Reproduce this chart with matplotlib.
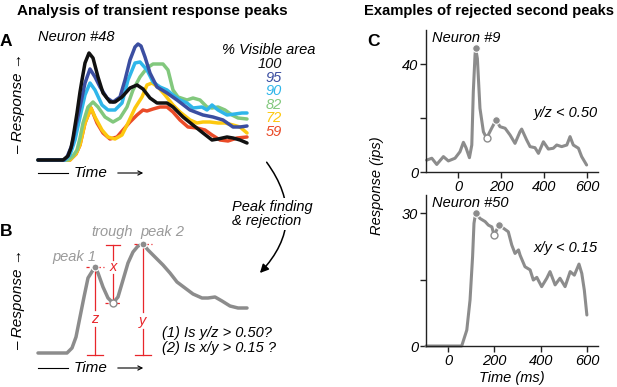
import numpy as np
import matplotlib.pyplot as plt
from matplotlib.patches import FancyArrowPatch

plt.rcParams['font.family'] = ['Liberation Sans', 'DejaVu Sans']
plt.rcParams['font.style'] = 'italic'

W, H = 617, 387
def fx(x): return x / W
def fy(y): return 1 - y / H

# ---- panel A: schematic responses (a.u.) for each % visible area
visible = ['100', '95', '90', '82', '72', '59']
colors = ['#111111', '#3b4ea1', '#2fb6ea', '#82c87d', '#fdc80f', '#ea4b28']

t100 = [0, 25, 30, 33, 35, 39, 42, 44, 47, 51, 55, 60, 65, 72, 77, 84, 92, 99, 105, 112, 119, 129, 135, 145, 155, 165, 174, 180, 189, 195, 202, 209]
r100 = [0, 0, 4, 12, 22, 47, 68, 80, 97, 107, 102, 83, 67, 58, 58, 63, 72, 75, 71, 62, 57, 57, 53, 43, 35, 27, 20, 21, 23, 22, 20, 17]
t95 = [0, 26, 29, 34, 38, 42, 47, 52, 57, 62, 69, 75, 82, 87, 92, 97, 100, 103, 107, 112, 119, 129, 139, 152, 165, 175, 185, 195, 202, 209]
r95 = [0, 0, 3, 15, 35, 53, 77, 91, 83, 73, 62, 58, 63, 80, 100, 113, 116, 114, 103, 87, 73, 67, 60, 50, 45, 43, 40, 33, 33, 34]
t90 = [0, 27, 32, 37, 42, 47, 52, 57, 64, 70, 77, 84, 90, 97, 102, 109, 115, 122, 129, 135, 142, 149, 155, 164, 169, 174, 180, 189, 197, 204, 209]
r90 = [0, 0, 5, 20, 43, 65, 77, 70, 55, 50, 50, 57, 80, 97, 98, 90, 78, 73, 70, 65, 60, 57, 52, 53, 50, 55, 50, 45, 46, 47, 47]
t82 = [0, 30, 35, 39, 42, 45, 50, 55, 60, 67, 75, 82, 89, 95, 102, 109, 115, 125, 130, 135, 140, 149, 155, 162, 169, 174, 180, 187, 194, 200, 209]
r82 = [0, 0, 4, 10, 22, 37, 53, 58, 53, 43, 38, 42, 53, 70, 83, 92, 96, 96, 90, 70, 63, 60, 62, 60, 53, 52, 53, 50, 45, 42, 41]
t72 = [0, 32, 38, 42, 47, 53, 57, 64, 70, 77, 84, 90, 97, 104, 109, 114, 120, 127, 135, 142, 152, 159, 165, 172, 180, 187, 195, 202, 209]
r72 = [0, 0, 6, 15, 37, 52, 43, 30, 23, 21, 25, 37, 52, 63, 75, 77, 73, 65, 55, 48, 40, 37, 38, 38, 37, 37, 35, 33, 27]
t59 = [0, 32, 38, 42, 47, 53, 59, 65, 72, 79, 85, 92, 99, 105, 109, 115, 122, 129, 135, 142, 150, 159, 167, 174, 182, 190, 199, 209]
r59 = [0, 0, 6, 15, 37, 52, 37, 27, 21, 23, 30, 38, 45, 50, 49, 51, 53, 53, 48, 40, 33, 32, 30, 25, 20, 19, 22, 23]

# ---- panel B: example response with two peaks (a.u.)
tB = [0, 29, 34, 38, 42, 46, 50, 55, 57, 60, 65, 70, 75, 80, 85, 90, 95, 100, 105, 110, 117, 125, 132, 139, 147, 155, 164, 170, 177, 184, 192, 200, 209]
rB = [0, 0, 5, 16, 36, 56, 75, 83, 86, 80, 66, 55, 50, 56, 73, 90, 101, 107, 109, 103, 96, 88, 80, 71, 65, 59, 55, 55, 56, 52, 47, 45, 45]
iB = [8, 12, 18]  # peak 1, trough, peak 2

# ---- panel C: rejected second peaks (time ms, response ips)
t9 = [-146, -122, -99, -68, -45, -14, 9, 25, 37, 53, 64, 71, 79, 82, 90, 102, 118, 133, 155, 177, 195, 219, 242, 265, 288, 296, 319, 335, 358, 374, 397, 420, 443, 459, 482, 506, 521, 536, 560, 575, 598]
r9 = [4.4, 5.1, 2.8, 5.7, 4.1, 5.1, 7.5, 11, 9, 5.3, 10, 29.7, 43.3, 45.8, 42, 23.6, 14.9, 12.5, 16, 19.3, 16.8, 16.2, 13.7, 10.6, 14.9, 15.9, 11.9, 9.4, 9, 6.9, 11.2, 8.5, 8.8, 10, 9.4, 10, 13.1, 10, 8.8, 5.7, 2.6]
i9 = [13, 17, 19]
t50 = [-95, 59, 81, 95, 106, 112, 119, 138, 160, 174, 189, 199, 220, 239, 260, 275, 289, 304, 311, 332, 354, 368, 383, 404, 426, 440, 462, 483, 505, 527, 545, 565, 577, 588, 599]
r50 = [0, 0, 3.6, 10.4, 20.2, 27.7, 30, 28.8, 28.1, 27.3, 26.9, 25, 27.3, 26.6, 25.8, 22.8, 20.9, 21.7, 20.5, 17.9, 17.2, 14.9, 15.5, 13.4, 15.3, 16.8, 13.8, 15.3, 13.4, 16.8, 16, 18.5, 16.4, 12.6, 7]
i50 = [6, 11, 12]

gray = '#8c8c8c'
lgray = '#9a9a9a'
red = '#e8262b'
fs = 10.5

fig = plt.figure(figsize=(6.17, 3.87), dpi=100)

# titles and panel letters
fig.text(fx(152), fy(11), 'Analysis of transient response peaks', ha='center', va='center', weight='bold', style='normal', size=11)
fig.text(fx(489), fy(11), 'Examples of rejected second peaks', ha='center', va='center', weight='bold', style='normal', size=10.6)
for lab, x, y in [('A', 6, 41), ('B', 6, 232), ('C', 373, 42)]:
    fig.text(fx(x), fy(y), lab, ha='center', va='center', weight='bold', style='normal', size=12.5)

# ---- A
axA = fig.add_axes([fx(38), fy(160), 210 / W, 115 / H])
axA.set_xlim(0, 210)
axA.set_ylim(0, 115)
axA.axis('off')
curves = [(t100, r100), (t95, r95), (t90, r90), (t82, r82), (t72, r72), (t59, r59)]
order = [5, 4, 3, 2, 1, 0]
for k in order:
    t, r = curves[k]
    axA.plot(t, r, color=colors[k], lw=2.5, solid_joinstyle='round', solid_capstyle='round', clip_on=False)

fig.text(fx(38), fy(37), 'Neuron #48', ha='left', va='center', size=fs)
fig.text(fx(222), fy(50.5), '% Visible area', ha='left', va='center', size=fs)
for k, lab in enumerate(visible):
    fig.text(fx(282), fy(64 + 13.6 * k), lab, ha='right', va='center', size=fs, color=colors[k])

# ---- B
axB = fig.add_axes([fx(38), fy(353), 210 / W, 115 / H])
axB.set_xlim(0, 210)
axB.set_ylim(0, 115)
axB.axis('off')
axB.plot(tB, rB, color=gray, lw=2.5, solid_joinstyle='round', solid_capstyle='round', clip_on=False)
p1, tr, p2 = [(tB[i], rB[i]) for i in iB]
dash = (0, (2.5, 2))
kw = dict(color=red, lw=0.9, clip_on=False)
# z
axB.plot([p1[0], p1[0]], [p1[1], 43], **kw)
axB.plot([p1[0], p1[0]], [26, -2], **kw)
axB.plot([p1[0] - 8, p1[0] + 8], [-2, -2], **kw)
axB.plot([p1[0] - 9, p1[0] + 9], [p1[1], p1[1]], ls=dash, **kw)
axB.text(p1[0], 34, 'z', color=red, ha='center', va='center', size=fs)
# y
axB.plot([p2[0], p2[0]], [p2[1], 41], **kw)
axB.plot([p2[0], p2[0]], [24, -2], **kw)
axB.plot([p2[0] - 8, p2[0] + 8], [-2, -2], **kw)
axB.plot([p2[0] - 9, p2[0] + 9], [p2[1], p2[1]], ls=dash, **kw)
axB.text(p2[0], 32, 'y', color=red, ha='center', va='center', size=fs)
# x
axB.plot([tr[0] - 7, tr[0] + 7], [p2[1] - 1, p2[1] - 1], **kw)
axB.plot([tr[0], tr[0]], [p2[1] - 1, 93], **kw)
axB.plot([tr[0], tr[0]], [79, tr[1]], **kw)
axB.plot([tr[0] - 8, tr[0] + 8], [tr[1], tr[1]], ls=dash, **kw)
axB.text(tr[0], 86, 'x', color=red, ha='center', va='center', size=fs)
axB.plot([p1[0], p2[0]], [p1[1], p2[1]], 'o', ms=5, color=gray, mec='white', mew=0.8, clip_on=False, zorder=5)
axB.plot([tr[0]], [tr[1]], 'o', ms=5, mfc='white', mec=gray, mew=1, clip_on=False, zorder=5)

fig.text(fx(74), fy(257), 'peak 1', ha='center', va='center', size=fs, color=lgray)
fig.text(fx(112), fy(232), 'trough', ha='center', va='center', size=fs, color=lgray)
fig.text(fx(140), fy(232), 'peak 2', ha='left', va='center', size=fs, color=lgray)
fig.text(fx(162), fy(333), '(1) Is y/z > 0.50?', ha='left', va='center', size=fs)
fig.text(fx(162), fy(348), '(2) Is x/y > 0.15 ?', ha='left', va='center', size=fs)

# axis hints for A and B
for ytime, yresp in [(173, 103), (368, 300)]:
    fig.add_artist(plt.Line2D([fx(38), fx(68)], [fy(ytime), fy(ytime)], color='black', lw=0.8))
    fig.text(fx(91), fy(ytime), 'Time', ha='center', va='center', size=fs + 0.5)
    fig.add_artist(FancyArrowPatch((fx(115), fy(ytime)), (fx(146), fy(ytime)), transform=fig.transFigure,
                                   arrowstyle='->,head_length=3,head_width=1.5', color='black', lw=0.8))
    fig.text(fx(18), fy(yresp), '– Response →', ha='center', va='center', rotation=90, size=fs + 0.5)

# curved arrow between A and B
fig.add_artist(FancyArrowPatch((fx(265), fy(160)), (fx(258), fy(275)), transform=fig.transFigure,
                               connectionstyle='arc3,rad=-0.43',
                               arrowstyle='-|>,head_length=5,head_width=2.5', color='black', lw=1.1))
fig.text(fx(232), fy(214), 'Peak finding\n& rejection', ha='left', va='center', size=fs,
         linespacing=1.0, bbox=dict(facecolor='white', edgecolor='none', pad=1.5))

# ---- C
axC1 = fig.add_axes([fx(426), fy(172), 172 / W, 142 / H])
axC2 = fig.add_axes([fx(426), fy(346), 172 / W, 151 / H])
panels = [(axC1, t9, r9, i9, (-149, 651), (0, 52.6), [0, 20, 40], ['0', '', '40']),
          (axC2, t50, r50, i50, (-95, 647), (0, 34.1), [0, 15, 30], ['0', '', '30'])]
for ax, t, r, idx, xl, yl, yt, ytl in panels:
    ax.plot(t, r, color=gray, lw=2.2, solid_joinstyle='round', solid_capstyle='round', clip_on=False)
    ax.plot([t[idx[0]], t[idx[2]]], [r[idx[0]], r[idx[2]]], 'o', ms=5.5, color=gray, mec='white', mew=0.8, clip_on=False, zorder=5)
    ax.plot([t[idx[1]]], [r[idx[1]]], 'o', ms=5, mfc='white', mec=gray, mew=1, clip_on=False, zorder=5)
    ax.set_xlim(*xl)
    ax.set_ylim(*yl)
    ax.set_xticks([0, 200, 400, 600])
    ax.set_yticks(yt)
    ax.set_yticklabels(ytl)
    for s in ['top', 'right']:
        ax.spines[s].set_visible(False)
    for s in ['left', 'bottom']:
        ax.spines[s].set_linewidth(1)
        ax.spines[s].set_color('#222222')
    ax.tick_params(direction='out', length=4, width=1, labelsize=fs, pad=1.5, color='#222222')
    ax.patch.set_alpha(0)

fig.text(fx(432), fy(38), 'Neuron #9', ha='left', va='center', size=fs)
fig.text(fx(598), fy(113), 'y/z < 0.50', ha='right', va='center', size=fs)
fig.text(fx(432), fy(203), 'Neuron #50', ha='left', va='center', size=fs)
fig.text(fx(598), fy(248), 'x/y < 0.15', ha='right', va='center', size=fs)
fig.text(fx(512), fy(378), 'Time (ms)', ha='center', va='center', size=fs)
fig.text(fx(377), fy(186), 'Response (ips)', ha='center', va='center', rotation=90, size=fs)

plt.savefig('out.png', dpi=100)
